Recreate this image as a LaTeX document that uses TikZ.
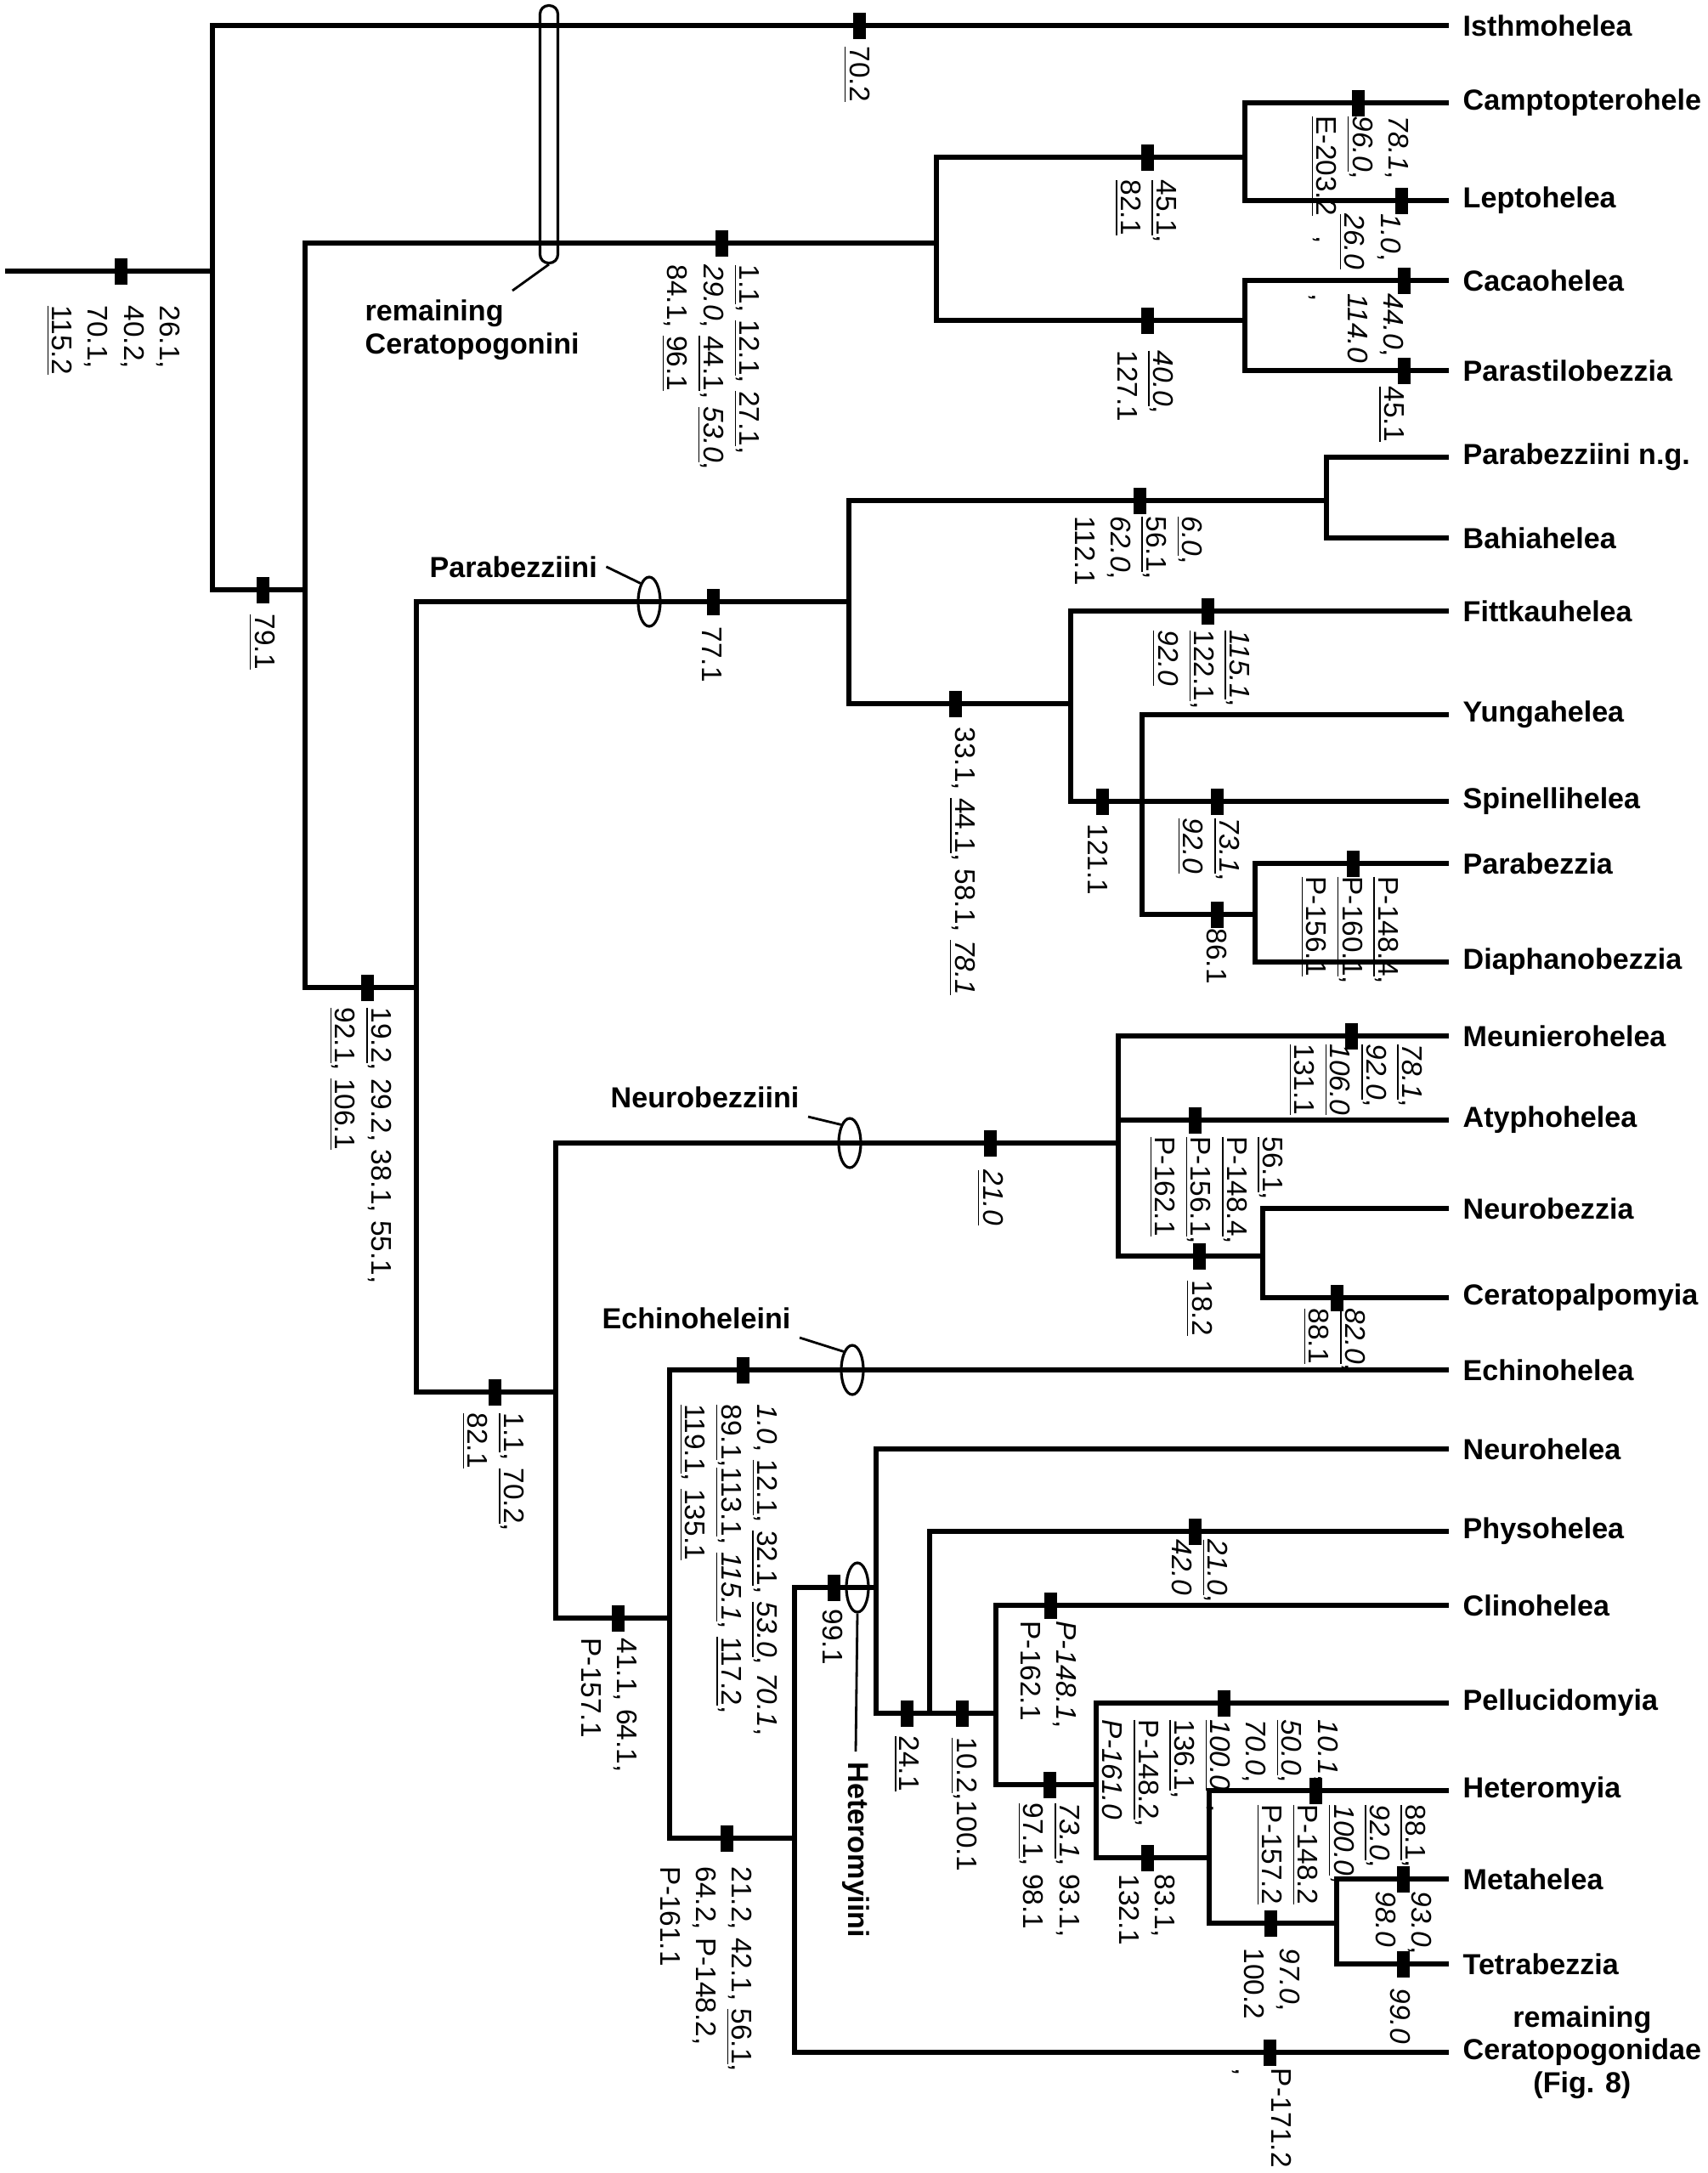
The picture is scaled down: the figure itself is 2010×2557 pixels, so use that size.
\documentclass[tikz,border=0pt]{standalone}
\usepackage{fontspec}
\setmainfont{Liberation Sans}
\usetikzlibrary{shapes.geometric}
\newcommand{\chrfont}{\fontsize{9.5}{12}\selectfont}
\newcommand{\taxfont}{\fontsize{9.7}{11}\selectfont\bfseries}
\newcommand{\un}[1]{\underline{#1}}
\newcommand{\ui}[1]{\underline{\textit{#1}}}
\tikzset{
  brn/.style   = {line width=1.8pt},
  chbar/.style = {fill=black, inner sep=0pt, minimum width=1.5mm, minimum height=3.1mm},
  chr/.style   = {rotate=-90, anchor=west, align=left, inner sep=0pt, font=\chrfont},
  taxon/.style = {anchor=west, inner xsep=1.6mm, font=\taxfont},
  clade/.style = {inner sep=1mm, font=\taxfont},
  cring/.style = {draw, ellipse, line width=0.9pt, inner sep=0pt,
                  minimum width=2.6mm, minimum height=5.8mm},
  rbar/.style  = {draw, rounded corners=1mm, line width=0.9pt, inner sep=0pt,
                  minimum width=2.1mm, minimum height=30.3mm},
  ldr/.style   = {line width=0.8pt}
}

\begin{document}
\begin{tikzpicture}[x=0.1mm, y=-0.1mm]
\useasboundingbox (0,0) rectangle (2010,2557);

% ---------------- internal nodes ----------------
\coordinate (r0) at (6,319);
\coordinate (n0) at (250,319);
\coordinate (n1) at (359,694);
\coordinate (nA) at (1102,286);
\coordinate (nB) at (1465,185);
\coordinate (nC) at (1465,377);
\coordinate (n2) at (490,1162);
\coordinate (nD) at (999,708);
\coordinate (nE) at (1561,589);
\coordinate (nF) at (1260,828);
\coordinate (nG) at (1344,943);
\coordinate (nH) at (1477,1076);
\coordinate (n3) at (654,1638);
\coordinate (nI) at (1316,1345);
\coordinate (nJ) at (1486,1478);
\coordinate (nK) at (788,1904);
\coordinate (nL) at (935,2163);
\coordinate (nM) at (1031,1868);
\coordinate (nN) at (1094,2016);
\coordinate (nO) at (1172,2016);
\coordinate (nP) at (1290,2100);
\coordinate (nQ) at (1423,2186);
\coordinate (nR) at (1573,2263);

% ---------------- taxa ----------------
\node[taxon] (isth)   at (1705,30)   {Isthmohelea};
\node[taxon] (campt)  at (1705,121)  {Camptopterohele};
\node[taxon] (lepto)  at (1705,236)  {Leptohelea};
\node[taxon] (cacao)  at (1705,330)  {Cacaohelea};
\node[taxon] (parast) at (1705,436)  {Parastilobezzia};
\node[taxon] (pbng)   at (1705,538)  {Parabezziini n.g.};
\node[taxon] (bahia)  at (1705,633)  {Bahiahelea};
\node[taxon] (fittk)  at (1705,719)  {Fittkauhelea};
\node[taxon] (yunga)  at (1705,841)  {Yungahelea};
\node[taxon] (spinel) at (1705,943)  {Spinellihelea};
\node[taxon] (parab)  at (1705,1016) {Parabezzia};
\node[taxon] (diaph)  at (1705,1132) {Diaphanobezzia};
\node[taxon] (meun)   at (1705,1219) {Meunierohelea};
\node[taxon] (atyph)  at (1705,1318) {Atyphohelea};
\node[taxon] (neurob) at (1705,1422) {Neurobezzia};
\node[taxon] (cpalp)  at (1705,1527) {Ceratopalpomyia};
\node[taxon] (echin)  at (1705,1612) {Echinohelea};
\node[taxon] (neuroh) at (1705,1705) {Neurohelea};
\node[taxon] (physo)  at (1705,1802) {Physohelea};
\node[taxon] (clino)  at (1705,1889) {Clinohelea};
\node[taxon] (pellu)  at (1705,2004) {Pellucidomyia};
\node[taxon] (hmyia)  at (1705,2107) {Heteromyia};
\node[taxon] (meta)   at (1705,2211) {Metahelea};
\node[taxon] (tetra)  at (1705,2311) {Tetrabezzia};
\node[taxon, align=center] (remc) at (1705,2415)
      {remaining\\ Ceratopogonidae\\ (Fig. 8)};

% ---------------- branches ----------------
\draw[brn] (r0) -- (n0);
\draw[brn] (n0) |- (isth.west);
\draw[brn] (n0) |- (n1);
\draw[brn] (n1) |- (nA);
\draw[brn] (n1) |- (n2);
\draw[brn] (nA) |- (nB);
\draw[brn] (nA) |- (nC);
\draw[brn] (nB) |- (campt.west);
\draw[brn] (nB) |- (lepto.west);
\draw[brn] (nC) |- (cacao.west);
\draw[brn] (nC) |- (parast.west);
\draw[brn] (n2) |- (nD);
\draw[brn] (n2) |- (n3);
\draw[brn] (nD) |- (nE);
\draw[brn] (nD) |- (nF);
\draw[brn] (nE) |- (pbng.west);
\draw[brn] (nE) |- (bahia.west);
\draw[brn] (nF) |- (fittk.west);
\draw[brn] (nF) |- (nG);
\draw[brn] (nG) |- (yunga.west);
\draw[brn] (nG) -- (spinel.west);
\draw[brn] (nG) |- (nH);
\draw[brn] (nH) |- (parab.west);
\draw[brn] (nH) |- (diaph.west);
\draw[brn] (n3) |- (nI);
\draw[brn] (n3) |- (nK);
\draw[brn] (nI) |- (meun.west);
\draw[brn] (nI) |- (atyph.west);
\draw[brn] (nI) |- (nJ);
\draw[brn] (nJ) |- (neurob.west);
\draw[brn] (nJ) |- (cpalp.west);
\draw[brn] (nK) |- (echin.west);
\draw[brn] (nK) |- (nL);
\draw[brn] (nL) |- (nM);
\draw[brn] (nL) |- (remc.west);
\draw[brn] (nM) |- (neuroh.west);
\draw[brn] (nM) |- (nN);
\draw[brn] (nN) |- (physo.west);
\draw[brn] (nN) -- (nO);
\draw[brn] (nO) |- (clino.west);
\draw[brn] (nO) |- (nP);
\draw[brn] (nP) |- (pellu.west);
\draw[brn] (nP) |- (nQ);
\draw[brn] (nQ) |- (hmyia.west);
\draw[brn] (nQ) |- (nR);
\draw[brn] (nR) |- (meta.west);
\draw[brn] (nR) |- (tetra.west);

% ---------------- clade marks ----------------
\node[rbar]  (rc) at (646,158)  {};
\node[cring] (rP) at (764,708)  {};
\node[cring] (rN) at (1000,1345) {};
\node[cring] (rE) at (1003,1612) {};
\node[cring] (rH) at (1009,1868) {};

\node[clade, anchor=north west, align=left, font=\fontsize{9.7}{11}\selectfont\bfseries]
      (lR) at (419,342) {remaining\\ Ceratopogonini};
\coordinate (lRend) at (603,342);
\draw[ldr] (rc.south) -- (lRend);
\node[clade, anchor=base west] (lP) at (495,679)  {Parabezziini};
\node[clade, anchor=base west] (lN) at (708,1303) {Neurobezziini};
\node[clade, anchor=base west] (lE) at (698,1563) {Echinoheleini};
\node[clade, rotate=-90, anchor=west, inner sep=1.2mm] (lH) at (1007,2061) {Heteromyiini};
\draw[ldr] (lP.east) -- (rP.north west);
\draw[ldr] (lN.south east) -- (rN.north west);
\draw[ldr] (lE.south east) -- (rE.north west);
\draw[ldr] (rH.south) -- (lH.west);

% ---------------- character changes ----------------
\node[chbar] (k0) at (142,319) {};
\node[chr] (c0) at (133,359) {26.1,\\ 40.2,\\ 70.1,\\ \un{115.2}};
\node[chbar] (k1) at (1011,30) {};
\node[chr] (c1) at (1008,54) {\un{70.2}};
\node[chbar] (k2) at (309,694) {};
\node[chr] (c2) at (308,722) {\un{79.1}};
\node[chbar] (k3) at (849,286) {};
\node[chr] (c3) at (836,311) {\un{1.1}, \un{12.1}, \un{27.1},\\
      \textit{29.0}, \un{44.1}, \ui{53.0},\\ 84.1, \un{96.1}};
\node[chbar] (k4) at (1350,185) {};
\node[chr] (c4) at (1348,211) {\un{45.1},\\ \un{82.1}};
\node[chbar] (k5) at (1350,377) {};
\node[chr] (c5) at (1348,412) {\ui{40.0},\\ 127.1};
\node[chbar] (k6) at (1598,121) {};
\node[chr] (c6) at (1600,136) {\textit{78.1},\\ \ui{96.0},\\ \un{E-203.2}\hspace{2.4mm},};
\node[chbar] (k7) at (1649,236) {};
\node[chr] (c7) at (1612,251) {\textit{1.0},\\ \ui{26.0}};
\node[chbar] (k8) at (1652,330) {};
\node[chr] (c8) at (1596,345) {\textit{44.0},\\ \textit{114.0}\\ ,};
\node[chbar] (k9) at (1652,436) {};
\node[chr] (c9) at (1637,454) {\un{45.1}};

\node[chbar] (k10) at (839,708) {};
\node[chr] (c10) at (838,737) {77.1};
\node[chbar] (k11) at (1341,589) {};
\node[chr] (c11) at (1340,607) {\ui{6.0},\\ \un{56.1},\\ \textit{62.0},\\ 112.1};
\node[chbar] (k12) at (1124,828) {};
\node[chr] (c12) at (1132,855) {33.1, \un{44.1}, 58.1, \ui{78.1}};
\node[chbar] (k13) at (1421,719) {};
\node[chr] (c13) at (1413,741) {\ui{115.1},\\ \un{122.1},\\ \ui{92.0}};
\node[chbar] (k14) at (1297,943) {};
\node[chr] (c14) at (1292,969) {121.1};
\node[chbar] (k15) at (1432,943) {};
\node[chr] (c15) at (1422,962) {\ui{73.1},\\ \ui{92.0}};
\node[chbar] (k16) at (1432,1076) {};
\node[chr] (c16) at (1432,1092) {86.1};
\node[chbar] (k17) at (1592,1016) {};
\node[chr] (c17) at (1588,1031) {\un{P-148.4},\\ \un{P-160.1},\\ \un{P-156.1}};

\node[chbar] (k18) at (432,1162) {};
\node[chr] (c18) at (424,1185) {\un{19.2}, 29.2, 38.1, 55.1,\\ \un{92.1}, \un{106.1}};
\node[chbar] (k19) at (582,1638) {};
\node[chr] (c19) at (580,1662) {\un{1.1}, \un{70.2},\\ \un{82.1}};

\node[chbar] (k20) at (1165,1345) {};
\node[chr] (c20) at (1165,1376) {\ui{21.0}};
\node[chbar] (k21) at (1590,1219) {};
\node[chr] (c21) at (1595,1228) {\ui{78.1},\\ \ui{92.0},\\ \ui{106.0},\\ \un{131.1}};
\node[chbar] (k22) at (1406,1318) {};
\node[chr] (c22) at (1431,1337) {\un{56.1},\\ \un{P-148.4},\\ \un{P-156.1},\\ \un{P-162.1}};
\node[chbar] (k23) at (1411,1478) {};
\node[chr] (c23) at (1411,1506) {\un{18.2}};
\node[chbar] (k24) at (1573,1527) {};
\node[chr] (c24) at (1570,1539) {\ui{82.0},\\ \un{88.1}};

\node[chbar] (k25) at (727,1904) {};
\node[chr] (c25) at (717,1927) {41.1, 64.1,\\ P-157.1};
\node[chbar] (k26) at (874,1612) {};
\node[chr] (c26) at (857,1652) {\textit{1.0}, \un{12.1}, \un{32.1}, \ui{53.0}, \textit{70.1},\\
      \un{89.1},\un{113.1}, \ui{115.1}, \un{117.2},\\ \un{119.1}, \un{135.1}};
\node[chbar] (k27) at (855,2163) {};
\node[chr] (c27) at (831,2196) {21.2, 42.1, \un{56.1},\\ 64.2, P-148.2,\\ P-161.1};

\node[chbar] (k28) at (981,1868) {};
\node[chr] (c28) at (980,1893) {99.1};
\node[chbar] (k29) at (1067,2016) {};
\node[chr] (c29) at (1067,2042) {\un{24.1}};
\node[chbar] (k30) at (1406,1802) {};
\node[chr] (c30) at (1412,1811) {\ui{21.0},\\ \textit{42.0}};
\node[chbar] (k31) at (1132,2016) {};
\node[chr] (c31) at (1134,2044) {\un{10.2},100.1};
\node[chbar] (k32) at (1236,1889) {};
\node[chr] (c32) at (1234,1907) {\textit{P-148.1},\\ P-162.1};
\node[chbar] (k33) at (1235,2100) {};
\node[chr] (c33) at (1234,2121) {\ui{73.1}, 93.1,\\ \un{97.1}, 98.1};
\node[chbar] (k34) at (1440,2004) {};
\node[chr] (c34) at (1436,2023) {\textit{10.1},\\ \ui{50.0},\\ \textit{70.0},\\
      \ui{100.0}\hspace{1.6mm},\\ \un{136.1},\\ \un{P-148.2},\\ \textit{P-161.0}};
\node[chbar] (k35) at (1350,2186) {};
\node[chr] (c35) at (1350,2205) {83.1,\\ 132.1};
\node[chbar] (k36) at (1548,2107) {};
\node[chr] (c36) at (1578,2123) {\un{88.1},\\ \ui{92.0},\\ \ui{100.0},\\ \un{P-148.2}\\ \un{P-157.2}};
\node[chbar] (k37) at (1495,2263) {};
\node[chr] (c37) at (1497,2292) {\textit{97.0},\\ 100.2};
\node[chbar] (k38) at (1651,2211) {};
\node[chr] (c38) at (1652,2225) {\textit{93.0},\\ \textit{98.0}};
\node[chbar] (k39) at (1651,2311) {};
\node[chr] (c39) at (1648,2339) {\textit{99.0}};
\node[chbar] (k40) at (1494,2415) {};
\node[chr] (c40) at (1485,2433) {P-171.2\\ ,};

\end{tikzpicture}
\end{document}
